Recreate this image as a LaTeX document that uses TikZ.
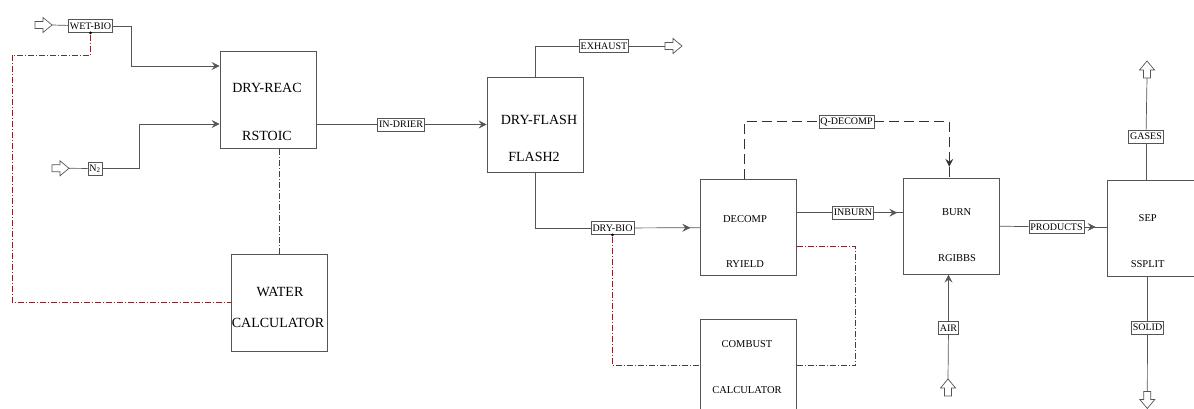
\documentclass[tikz,border=0pt]{standalone}
\usepackage{fontspec}
\setmainfont{Liberation Serif}
\usetikzlibrary{arrows.meta,calc,decorations.markings}
\definecolor{ln}{RGB}{85,85,85}
\definecolor{sig}{RGB}{125,40,45}
\tikzset{
  blk/.style={draw=ln, line width=0.8pt, minimum width=96pt, minimum height=96pt, inner sep=0pt},
  bigtxt/.style={font=\rmfamily\fontsize{14}{16}\selectfont, inner sep=0pt},
  smtxt/.style={font=\rmfamily\fontsize{10.5}{12}\selectfont, inner sep=0pt},
  strm/.style={draw=ln, line width=0.7pt, fill=white, font=\rmfamily\fontsize{10}{12}\selectfont, inner xsep=1.5pt, inner ysep=1pt, minimum height=13pt},
  flow/.style={draw=ln, line width=0.7pt},
  tipa/.style={-{Stealth[length=8pt,width=8pt,inset=3pt]}},
  arrowat/.style={postaction={decorate}, decoration={markings, mark=at position -#1 with {\arrow{Stealth[length=8pt,width=8pt,inset=3pt]}}}},
  sigl/.style={draw=sig, line width=0.75pt, dash pattern=on 6pt off 2pt on 1pt off 2pt},
  heat/.style={draw=black!80, line width=0.7pt, dash pattern=on 10pt off 5pt},
  jdot/.style={circle, fill=black, inner sep=0pt, minimum size=3pt},
  pics/feedarr/.style={code={
    \draw[draw=ln, line width=0.7pt, fill=white] (0,-3.5) -- (8,-3.5) -- (8,-7.5) -- (17,0) -- (8,7.5) -- (8,3.5) -- (0,3.5) -- cycle;
    \coordinate (-tail) at (0,0);
    \coordinate (-tip) at (17,0);
  }}
}
\begin{document}
\begin{tikzpicture}[x=1pt,y=-1pt]
\useasboundingbox (0,0) rectangle (1194,409);
\clip (0,0) rectangle (1194,409);

% blocks
\node[blk, minimum height=97pt] (dr) at (268,99.5) {};
\node[blk, minimum height=97pt] (wc) at (279,302.5) {};
\node[blk, minimum height=95pt] (df) at (535,124.5) {};
\node[blk] (dc) at (748.7,227.7) {};
\node[blk] (cc) at (748.7,367) {};
\node[blk] (bu) at (951.7,226.2) {};
\node[blk] (sp) at (1155,228) {};

% block texts
\node[bigtxt] (t1) at (267,88) {DRY-REAC};
\node[bigtxt] (t2) at (267,136) {RSTOIC};
\node[bigtxt] (t3) at (280,292) {WATER};
\node[bigtxt] (t4) at (278,323) {CALCULATOR};
\node[bigtxt] (t5) at (539,120) {DRY-FLASH};
\node[bigtxt] (t6) at (534,157) {FLASH2};
\node[smtxt] (t7) at (745,219) {DECOMP};
\node[smtxt] (t8) at (745,264) {RYIELD};
\node[smtxt] (t9) at (747,344) {COMBUST};
\node[smtxt] (t10) at (747,390) {CALCULATOR};
\node[smtxt] (t11) at (956.7,212) {BURN};
\node[smtxt] (t12) at (957,258) {RGIBBS};
\node[smtxt] (t13) at (1147.7,218) {SEP};
\node[smtxt] (t14) at (1147.7,264) {SSPLIT};

% feed arrows
\pic (fa1) at (35,25) {feedarr};
\pic (fa2) at (52,168.3) {feedarr};
\pic (fa3) at (665,46) {feedarr};
\pic[rotate=90] (fa4) at (1147,78) {feedarr};
\pic[rotate=90] (fa5) at (948,396) {feedarr};
\pic[rotate=-90] (fa6) at (1147.3,391.5) {feedarr};

% stream labels
\node[strm] (wetbio) at (90.5,26) {WET-BIO};
\node[strm] (ntwo) at (95,168.5) {N\textsubscript{2}};
\node[strm] (indrier) at (401,124.5) {IN-DRIER};
\node[strm] (exhaust) at (604,46) {EXHAUST};
\node[strm] (drybio) at (612.5,228) {DRY-BIO};
\node[strm] (qdecomp) at (846.5,121.7) {Q-DECOMP};
\node[strm] (inburn) at (853,212.7) {INBURN};
\node[strm] (products) at (1056.5,227) {PRODUCTS};
\node[strm] (gases) at (1146,136.7) {GASES};
\node[strm] (air) at (948.5,328) {AIR};
\node[strm] (solid) at (1147.5,327.5) {SOLID};

% material flows
\draw[flow] (fa1-tip) -- (wetbio);
\draw[flow,tipa] (wetbio.east) -| ($(dr.west)+(-88,-33.5)$) -- ($(dr.west)+(0,-33.5)$);
\draw[flow] (fa2-tip) -- (ntwo);
\draw[flow,tipa] (ntwo.east) -| ($(dr.west)+(-80,24.5)$) -- ($(dr.west)+(0,24.5)$);
\draw[flow] ($(dr.east)+(0,25)$) -- (indrier);
\draw[flow,tipa] (indrier) -- (df.west);
\draw[flow] (df.north) |- (exhaust);
\draw[flow] (exhaust) -- (fa3-tail);
\draw[flow] (df.south) |- (drybio);
\draw[flow,arrowat=10pt] (drybio) -- (dc.west);
\draw[flow] ($(dc.east)+(0,-15)$) -- (inburn);
\draw[flow,arrowat=6pt] (inburn) -- (bu.west |- inburn);
\draw[flow] (bu.east) -- (products);
\draw[flow,arrowat=11pt] (products) -- (sp.west |- products);
\draw[flow] (sp.north -| gases) -- (gases);
\draw[flow] (gases) -- (fa4-tail);
\draw[flow] (sp.south -| solid) -- (solid);
\draw[flow] (solid) -- (fa6-tail);
\draw[flow] (fa5-tip) -- (air);
\draw[flow,tipa] (air) -- (air |- bu.south);

% heat stream
\draw[heat] ($(dc.north)+(-4.5,0)$) |- (qdecomp);
\draw[heat,arrowat=11pt] (qdecomp) -| ($(bu.north)+(-2.4,0)$);

% signal (calculator) lines
\node[jdot] (j1) at (wetbio.south) {};
\node[jdot] (j2) at (drybio.south) {};
\coordinate (c1) at (12,55);
\draw[sigl] (j1) |- (c1) |- (wc.west);
\draw[sigl] (wc.north) -- (wc.north |- dr.south);
\draw[sigl] (j2) |- ($(cc.west)+(0,-2)$);
\draw[sigl] ($(dc.south east)+(0,-30)$) -| ($(cc.east)+(58.6,-1.5)$) -- ($(cc.east)+(0,-1.5)$);
\end{tikzpicture}
\end{document}
